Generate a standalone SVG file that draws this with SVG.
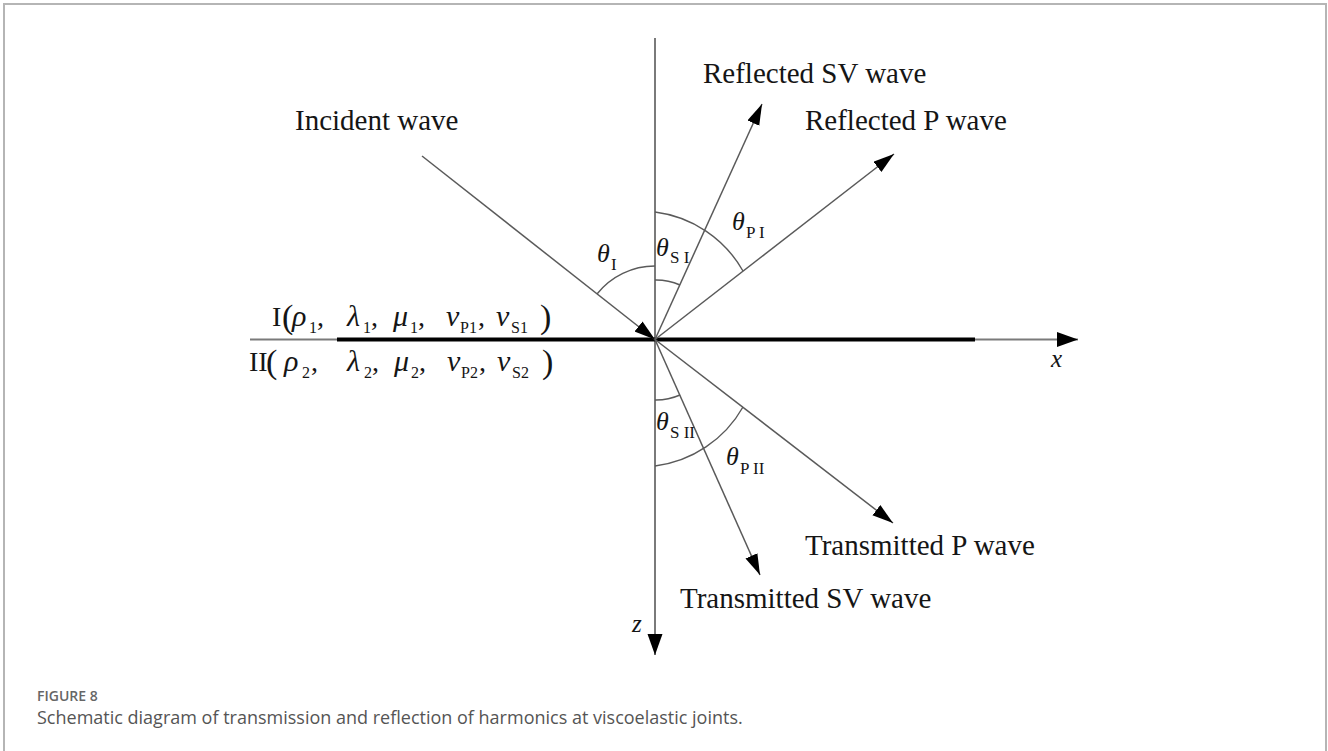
<svg xmlns="http://www.w3.org/2000/svg" width="1328" height="751" viewBox="0 0 1328 751">
<defs>
<style>
.lbl{font-family:"Liberation Serif","Times New Roman",serif;font-size:29px;fill:#151515}
.it{font-family:"Liberation Serif","Times New Roman",serif;font-style:italic;fill:#151515}
.rm{font-family:"Liberation Serif","Times New Roman",serif;fill:#151515}
.wave{stroke:#5a5a5a;stroke-width:1.5;fill:none}
.arc{stroke:#5a5a5a;stroke-width:1.4;fill:none}
.axis{stroke:#7a7a7a;stroke-width:2;fill:none}
</style>
<marker id="ah" markerUnits="userSpaceOnUse" markerWidth="22" markerHeight="16" refX="21" refY="7.5" orient="auto">
<path d="M0,0 L21,7.5 L0,15 Z" fill="#000"/>
</marker>
<marker id="ahs" markerUnits="userSpaceOnUse" markerWidth="22" markerHeight="14" refX="21" refY="6.5" orient="auto">
<path d="M0,0 L21,6.5 L0,13 Z" fill="#000"/>
</marker>
</defs>
<rect x="0" y="0" width="1328" height="751" fill="#fff"/>
<rect id="frame" x="4" y="4" width="1322" height="800" fill="none" stroke="#b5b5b5" stroke-width="2"/>

<g id="connectors">
<line class="axis" x1="655" y1="38" x2="655" y2="655" marker-end="url(#ah)"/>
<line class="axis" x1="250" y1="339.5" x2="1078" y2="339.5" marker-end="url(#ah)"/>
<line x1="337" y1="339.5" x2="975" y2="339.5" stroke="#000" stroke-width="4"/>
<line class="wave" x1="422" y1="156" x2="655" y2="339.5" marker-end="url(#ahs)"/>
<line class="wave" x1="655" y1="339.5" x2="762" y2="104" marker-end="url(#ahs)"/>
<line class="wave" x1="655" y1="339.5" x2="894" y2="154" marker-end="url(#ahs)"/>
<line class="wave" x1="655" y1="339.5" x2="893" y2="523" marker-end="url(#ahs)"/>
<line class="wave" x1="655" y1="339.5" x2="760" y2="575" marker-end="url(#ahs)"/>
<path class="arc" d="M655,266 A74 74 0 0 0 597,294"/>
<path class="arc" d="M655,280 A60 60 0 0 1 680,285"/>
<path class="arc" d="M655,212 A118 118 0 0 1 743,271"/>
<path class="arc" d="M655,400 A60 60 0 0 0 680,395"/>
<path class="arc" d="M655,466 A118 118 0 0 0 743,407"/>
</g>

<g id="incident-wave"><text class="lbl" x="295" y="130">Incident wave</text></g>
<g id="reflected-sv"><text class="lbl" x="703" y="83">Reflected SV wave</text></g>
<g id="reflected-p"><text class="lbl" x="805" y="130">Reflected P wave</text></g>
<g id="transmitted-p"><text class="lbl" x="805" y="555">Transmitted P wave</text></g>
<g id="transmitted-sv"><text class="lbl" x="680" y="608">Transmitted SV wave</text></g>

<g id="axis-x"><text class="it" x="1051" y="367" font-size="25">x</text></g>
<g id="axis-z"><text class="it" x="632" y="632" font-size="25">z</text></g>

<g id="theta-I">
<text class="it" x="597" y="262" font-size="26">θ</text>
<text class="rm" x="611" y="270" font-size="17">I</text>
</g>
<g id="theta-SI">
<text class="it" x="656" y="256" font-size="26">θ</text>
<text class="rm" x="670" y="263" font-size="17">S I</text>
</g>
<g id="theta-PI">
<text class="it" x="732" y="230" font-size="26">θ</text>
<text class="rm" x="746" y="238" font-size="17">P I</text>
</g>
<g id="theta-SII">
<text class="it" x="656" y="430" font-size="26">θ</text>
<text class="rm" x="670" y="438" font-size="17">S II</text>
</g>
<g id="theta-PII">
<text class="it" x="726" y="465" font-size="26">θ</text>
<text class="rm" x="740" y="474" font-size="17">P II</text>
</g>

<g id="medium-I">
<text class="rm" x="272" y="326" font-size="28">I</text>
<text class="rm" x="282" y="328" font-size="34">(</text>
<text class="it" x="292" y="326" font-size="30">ρ</text>
<text class="rm" x="309" y="333" font-size="16">1</text>
<text class="rm" x="317" y="326" font-size="28">,</text>
<text class="it" x="347" y="326" font-size="30">λ</text>
<text class="rm" x="363" y="333" font-size="16">1</text>
<text class="rm" x="371" y="326" font-size="28">,</text>
<text class="it" x="393" y="326" font-size="30">μ</text>
<text class="rm" x="410" y="333" font-size="16">1</text>
<text class="rm" x="418" y="326" font-size="28">,</text>
<text class="it" x="446" y="326" font-size="30">v</text>
<text class="rm" x="460" y="333" font-size="16">P1</text>
<text class="rm" x="478" y="326" font-size="28">,</text>
<text class="it" x="496" y="326" font-size="30">v</text>
<text class="rm" x="511" y="333" font-size="16">S1</text>
<text class="rm" x="540" y="328" font-size="34">)</text>
</g>
<g id="medium-II">
<text class="rm" x="249" y="371" font-size="28">II</text>
<text class="rm" x="266" y="373" font-size="34">(</text>
<text class="it" x="284" y="371" font-size="30">ρ</text>
<text class="rm" x="302" y="378" font-size="16">2</text>
<text class="rm" x="311" y="371" font-size="28">,</text>
<text class="it" x="347" y="371" font-size="30">λ</text>
<text class="rm" x="364" y="378" font-size="16">2</text>
<text class="rm" x="372" y="371" font-size="28">,</text>
<text class="it" x="394" y="371" font-size="30">μ</text>
<text class="rm" x="411" y="378" font-size="16">2</text>
<text class="rm" x="419" y="371" font-size="28">,</text>
<text class="it" x="447" y="371" font-size="30">v</text>
<text class="rm" x="461" y="378" font-size="16">P2</text>
<text class="rm" x="479" y="371" font-size="28">,</text>
<text class="it" x="497" y="371" font-size="30">v</text>
<text class="rm" x="512" y="378" font-size="16">S2</text>
<text class="rm" x="542" y="373" font-size="34">)</text>
</g>

<g id="caption">
<text x="37" y="701" font-family="'Open Sans','Noto Sans',sans-serif" font-size="14" font-weight="600" fill="#666">FIGURE 8</text>
<text x="37" y="724" font-family="'Open Sans','Noto Sans',sans-serif" font-size="18" fill="#555">Schematic diagram of transmission and reflection of harmonics at viscoelastic joints.</text>
</g>
</svg>
